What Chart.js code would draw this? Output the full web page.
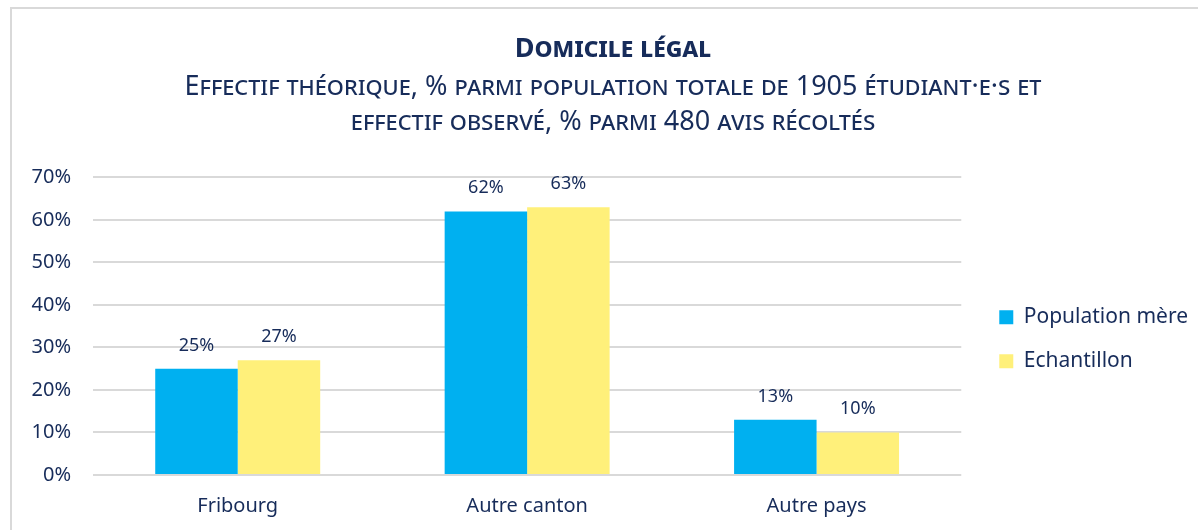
<!DOCTYPE html>
<html>
<head>
<meta charset="utf-8">
<script src="https://cdn.jsdelivr.net/npm/chart.js@4"></script>
<style>
  body { margin: 0; background: #fff; }
  #cadre { position: absolute; left: 10px; top: 7px; width: 1300px; height: 600px; border: 2px solid #d9d9d9; }
  #zone { position: absolute; left: 0; top: 0; width: 1198px; height: 530px; }
</style>
</head>
<body>
<div id="cadre"></div>
<div id="zone"><canvas id="graphique"></canvas></div>
<script>
// Données
const categories = ['Fribourg', 'Autre canton', 'Autre pays'];
const populationMere = [25, 62, 13];
const echantillon = [27, 63, 10];
const series = ['Population mère', 'Echantillon'];

const titre = 'Domicile légal';
const sousTitre = [
  'Effectif théorique, % parmi population totale de 1905 étudiant·e·s et',
  'effectif observé, % parmi 480 avis récoltés'
];

const bleuNuit = '#172c5a';
const police = "'Noto Sans', sans-serif";

// petit plugin pour écrire les valeurs au-dessus des barres
const etiquettes = {
  id: 'etiquettes',
  afterDatasetsDraw(chart) {
    const ctx = chart.ctx;
    ctx.save();
    ctx.font = "18px " + police;
    ctx.fillStyle = bleuNuit;
    ctx.textAlign = 'center';
    ctx.textBaseline = 'alphabetic';
    chart.data.datasets.forEach((ds, i) => {
      chart.getDatasetMeta(i).data.forEach((barre, j) => {
        ctx.fillText(ds.data[j] + '%', barre.x, barre.y - 18);
      });
    });
    ctx.restore();
  }
};

new Chart(document.getElementById('graphique'), {
  type: 'bar',
  data: {
    labels: categories,
    datasets: [
      { label: series[0], data: populationMere, backgroundColor: '#00b0f0' },
      { label: series[1], data: echantillon, backgroundColor: '#fff07a' }
    ]
  },
  options: {
    responsive: true,
    maintainAspectRatio: false,
    animation: false,
    layout: { padding: { top: 33, left: 28, right: 0, bottom: -7 } },
    datasets: { bar: { categoryPercentage: 0.57, barPercentage: 1 } },
    plugins: {
      title: {
        display: true,
        text: titre,
        color: bleuNuit,
        font: { family: police, size: 27, weight: 'small-caps bold', lineHeight: 1.2 },
        padding: { top: 0, bottom: 4 }
      },
      subtitle: {
        display: true,
        text: sousTitre,
        color: bleuNuit,
        font: { family: police, size: 27, weight: 'small-caps', lineHeight: 1.296 },
        padding: { top: 0, bottom: 38 }
      },
      legend: {
        position: 'right',
        fullSize: false,
        title: { display: true, text: '', padding: 1, font: { size: 20 } },
        labels: {
          boxWidth: 14,
          boxHeight: 14,
          padding: 23,
          color: bleuNuit,
          font: { family: police, size: 21 }
        }
      },
      tooltip: { enabled: false }
    },
    scales: {
      x: {
        grid: { display: false, drawTicks: false },
        border: { display: false },
        ticks: { color: bleuNuit, font: { family: police, size: 20 }, padding: 19 }
      },
      y: {
        min: 0,
        max: 70,
        ticks: {
          stepSize: 10,
          color: bleuNuit,
          font: { family: police, size: 20 },
          padding: 22,
          callback: v => v + '%'
        },
        grid: { color: '#d9d9d9', lineWidth: 2, drawTicks: false },
        border: { display: false },
        afterFit: s => { s.width = 65; }
      },
      // axe invisible à droite, juste pour garder de l'espace avant la légende
      marge: {
        type: 'linear',
        position: 'right',
        display: false,
        afterFit: s => { s.width = 15; }
      }
    }
  },
  plugins: [etiquettes]
});
</script>
</body>
</html>
